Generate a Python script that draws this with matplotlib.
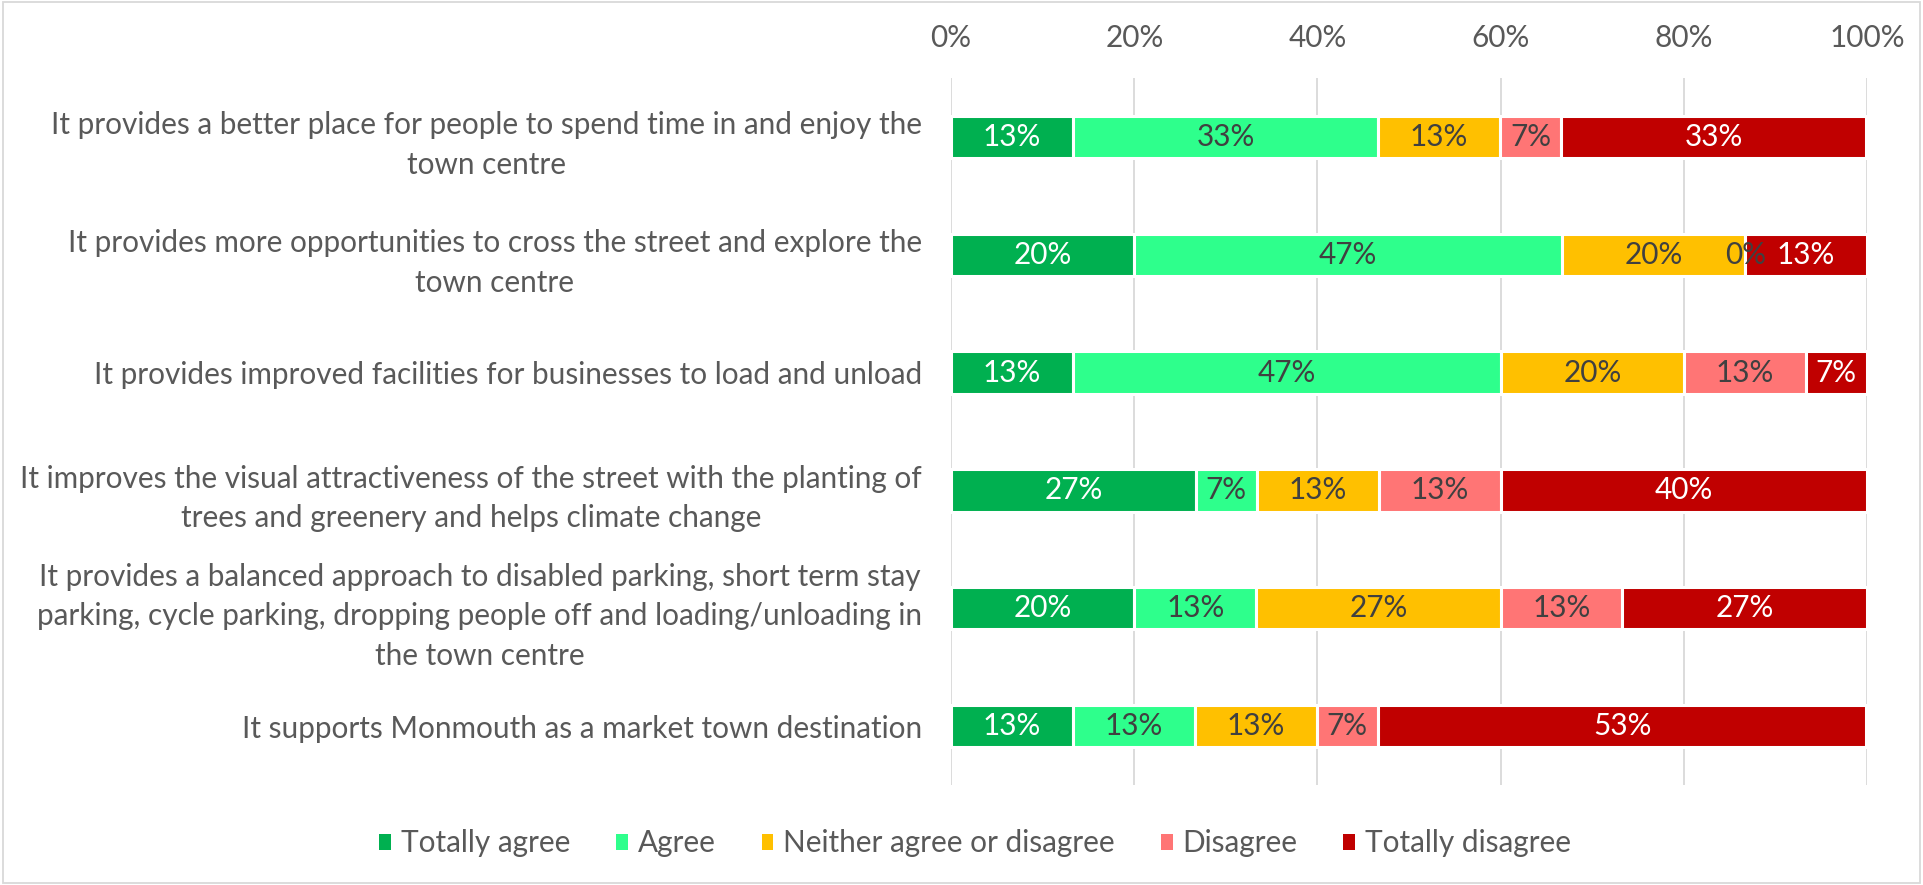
import matplotlib
matplotlib.use("Agg")
import matplotlib.pyplot as plt
from matplotlib.patches import Rectangle

categories = [
    "It provides a better place for people to spend time in and enjoy the\ntown centre",
    "It provides more opportunities to cross the street and explore the\ntown centre",
    "It provides improved facilities for businesses to load and unload",
    "It improves the visual attractiveness of the street with the planting of\ntrees and greenery and helps climate change",
    "It provides a balanced approach to disabled parking, short term stay\nparking, cycle parking, dropping people off and loading/unloading in\nthe town centre",
    "It supports Monmouth as a market town destination",
]
series_names = ["Totally agree", "Agree", "Neither agree or disagree", "Disagree", "Totally disagree"]
totally_agree = [13.3, 20.0, 13.3, 26.7, 20.0, 13.3]
agree = [33.3, 46.7, 46.7, 6.7, 13.3, 13.3]
neither = [13.3, 20.0, 20.0, 13.3, 26.7, 13.3]
disagree = [6.7, 0.0, 13.3, 13.3, 13.3, 6.7]
totally_disagree = [33.3, 13.3, 6.7, 40.0, 26.7, 53.3]
x_ticks = [0, 20, 40, 60, 80, 100]
x_tick_labels = ["0%", "20%", "40%", "60%", "80%", "100%"]

colors = ["#00B050", "#2EFF8C", "#FFC000", "#FF7575", "#C00000"]
label_colors = ["white", "#404040", "#404040", "#404040", "white"]

plt.rcParams['font.family'] = ['Lato', 'DejaVu Sans']
FS = 21.4
TXT = "#595959"

fig = plt.figure(figsize=(19.23, 8.85), dpi=100)
ax = fig.add_axes([0.4946, 0.1130, 0.4763, 0.7989])

series = [totally_agree, agree, neither, disagree, totally_disagree]
ypos = list(range(len(categories)))
left = [0.0] * len(categories)
all_labels = []
for name, vals, col, lc in zip(series_names, series, colors, label_colors):
    bars = ax.barh(ypos, vals, left=left, height=0.36, color=col, label=name,
                   edgecolor="white", linewidth=2.2, zorder=3)
    txts = ax.bar_label(bars, labels=[f"{v:.0f}%" for v in vals], label_type="center",
                        color=lc, fontsize=FS)
    all_labels.extend(txts)
    left = [a + b for a, b in zip(left, vals)]
for t in all_labels:
    t.set_zorder(6)

ax.set_xlim(0, 100)
ax.set_ylim(len(categories) - 0.5, -0.5)
ax.set_xticks(x_ticks)
ax.set_xticklabels(x_tick_labels)
ax.xaxis.tick_top()
ax.tick_params(axis="x", length=0, pad=18.5, labelsize=FS, labelcolor=TXT)
ax.set_yticks(ypos)
ax.set_yticklabels(categories)
ax.tick_params(axis="y", length=0, pad=21, labelsize=FS, labelcolor=TXT)
for lbl in ax.get_yticklabels():
    lbl.set_multialignment("center")
    lbl.set_linespacing(1.5)
ax.grid(axis="x", color="#D9D9D9", linewidth=1.3, zorder=0)
ax.set_axisbelow(True)
for s in ax.spines.values():
    s.set_visible(False)

leg = fig.legend(loc="center", bbox_to_anchor=(0.507, 0.047), ncol=5, frameon=False,
                 fontsize=FS, handlelength=0.4, handleheight=0.45, handletextpad=0.32,
                 columnspacing=1.55)
for t in leg.get_texts():
    t.set_color(TXT)
for h in leg.legend_handles:
    h.set_edgecolor("none")

fig.patches.append(Rectangle((0.0015, 0.002), 0.997, 0.996, transform=fig.transFigure,
                             fill=False, edgecolor="#D9D9D9", linewidth=1.3))

fig.savefig("out.png", dpi=100)
